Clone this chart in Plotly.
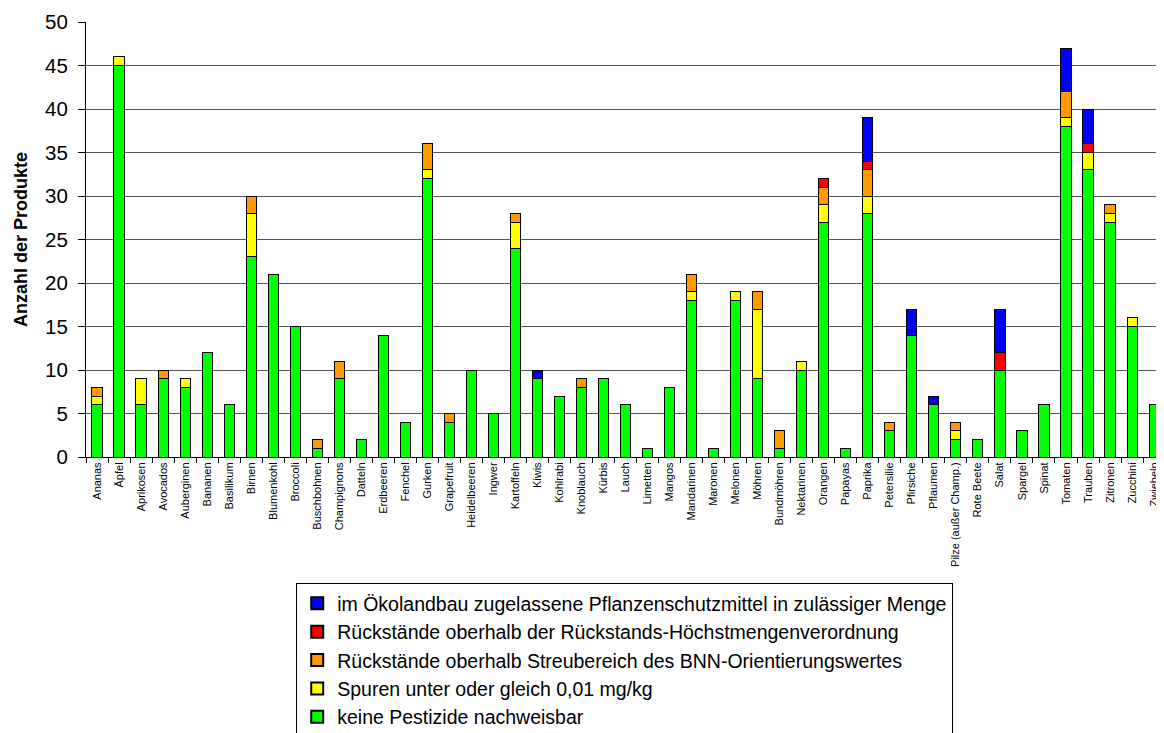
import plotly.graph_objects as go

categories = ["Ananas", "Äpfel", "Aprikosen", "Avocados", "Auberginen", "Bananen", "Basilikum",
              "Birnen", "Blumenkohl", "Broccoli", "Buschbohnen", "Champignons", "Datteln",
              "Erdbeeren", "Fenchel", "Gurken", "Grapefruit", "Heidelbeeren", "Ingwer",
              "Kartoffeln", "Kiwis", "Kohlrabi", "Knoblauch", "Kürbis", "Lauch", "Limetten",
              "Mangos", "Mandarinen", "Maronen", "Melonen", "Möhren", "Bundmöhren",
              "Nektarinen", "Orangen", "Papayas", "Paprika", "Petersilie", "Pfirsiche",
              "Pflaumen", "Pilze (außer Champ.)", "Rote Beete", "Salat", "Spargel", "Spinat",
              "Tomaten", "Trauben", "Zitronen", "Zucchini", "Zwiebeln"]

keine = [6, 45, 6, 9, 8, 12, 6, 23, 21, 15, 1, 9, 2, 14, 4, 32, 4, 10, 5, 24, 9, 7, 8, 9, 6, 1,
         8, 18, 1, 18, 9, 1, 10, 27, 1, 28, 3, 14, 6, 2, 2, 10, 3, 6, 38, 33, 27, 15, 6]
spuren = [1, 1, 3, 0, 1, 0, 0, 5, 0, 0, 0, 0, 0, 0, 0, 1, 0, 0, 0, 3, 0, 0, 0, 0, 0, 0,
          0, 1, 0, 1, 8, 0, 1, 2, 0, 2, 0, 0, 0, 1, 0, 0, 0, 0, 1, 2, 1, 1, 0]
bnn = [1, 0, 0, 1, 0, 0, 0, 2, 0, 0, 1, 2, 0, 0, 0, 3, 1, 0, 0, 1, 0, 0, 1, 0, 0, 0,
       0, 2, 0, 0, 2, 2, 0, 2, 0, 3, 1, 0, 0, 1, 0, 0, 0, 0, 3, 0, 1, 0, 0]
rhmv = [0, 0, 0, 0, 0, 0, 0, 0, 0, 0, 0, 0, 0, 0, 0, 0, 0, 0, 0, 0, 0, 0, 0, 0, 0, 0,
        0, 0, 0, 0, 0, 0, 0, 1, 0, 1, 0, 0, 0, 0, 0, 2, 0, 0, 0, 1, 0, 0, 0]
oeko = [0, 0, 0, 0, 0, 0, 0, 0, 0, 0, 0, 0, 0, 0, 0, 0, 0, 0, 0, 0, 1, 0, 0, 0, 0, 0,
        0, 0, 0, 0, 0, 0, 0, 0, 0, 5, 0, 3, 1, 0, 0, 5, 0, 0, 5, 4, 0, 0, 0]

series = [
    ("keine Pestizide nachweisbar", keine, "#00FF00"),
    ("Spuren unter oder gleich 0,01 mg/kg", spuren, "#FFFF00"),
    ("Rückstände oberhalb Streubereich des BNN-Orientierungswertes", bnn, "#FF9900"),
    ("Rückstände oberhalb der Rückstands-Höchstmengenverordnung", rhmv, "#FF0000"),
    ("im Ökolandbau zugelassene Pflanzenschutzmittel in zulässiger Menge", oeko, "#0000FF"),
]

y_ticks = [0, 5, 10, 15, 20, 25, 30, 35, 40, 45, 50]

fig = go.Figure()
for name, vals, col in series:
    fig.add_trace(go.Bar(
        x=categories, y=[v if v > 0 else None for v in vals], name=name,
        marker=dict(color=col, line=dict(color="black", width=1)),
    ))

fig.update_layout(
    barmode="stack",
    bargap=0.54,
    width=1156, height=725,
    margin=dict(l=78, r=0, t=14, b=276, autoexpand=False),
    plot_bgcolor="white", paper_bgcolor="white",
    font=dict(family="Arial, Liberation Sans, sans-serif", color="black"),
    legend=dict(
        traceorder="reversed",
        x=0.195, y=-0.29, xanchor="left", yanchor="top",
        bordercolor="black", borderwidth=1,
        font=dict(size=19.5, family="Arial, Liberation Sans, sans-serif"),
        itemsizing="constant", tracegroupgap=0,
    ),
    xaxis=dict(
        range=[-0.5, 48.45],
        automargin=False,
        tickangle=-90,
        tickfont=dict(size=11, family="Arial, Liberation Sans, sans-serif"),
        ticklabeloverflow="allow",
        showline=True, linecolor="black", linewidth=1,
        ticks="outside", tickson="boundaries", ticklen=5, tickcolor="black",
        showgrid=False,
    ),
    yaxis=dict(
        range=[0, 50],
        automargin=False,
        tickvals=y_ticks,
        tickfont=dict(size=20.5),
        ticklabelstandoff=6,
        title=dict(text="<b>Anzahl der Produkte</b>", font=dict(size=18), standoff=12),
        showline=True, linecolor="black", linewidth=1,
        ticks="outside", ticklen=7, tickcolor="black",
        showgrid=True, gridcolor="#555555", gridwidth=1,
        zeroline=False,
    ),
)

fig.write_html("out.html")
